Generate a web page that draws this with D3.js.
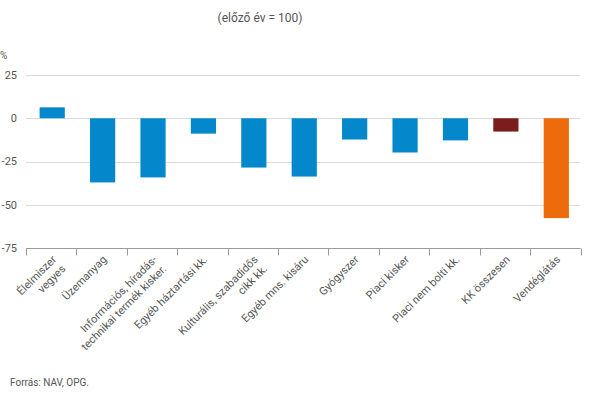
<!DOCTYPE html>
<html>
<head>
<meta charset="utf-8">
<script src="https://cdn.jsdelivr.net/npm/d3@7"></script>
<style>
  body { margin: 0; background: #fff; }
  svg { display: block; font-family: Roboto, "Noto Sans", sans-serif; }
</style>
</head>
<body>
<div id="chart"></div>
<script>
// categories (line breaks as in the original labels)
const categories = [
  "Élelmiszer\nvegyes",
  "Üzemanyag",
  "Információs, híradás-\ntechnikai termék kisker.",
  "Egyéb háztartási kk.",
  "Kulturális, szabadidős\ncikk kk.",
  "Egyéb mns. kisáru",
  "Gyógyszer",
  "Piaci kisker",
  "Piaci nem bolti kk.",
  "KK összesen",
  "Vendéglátás"
];
// change vs previous year (previous year = 100), %
const values = [6.3, -37.1, -34.2, -8.9, -28.5, -33.7, -12.3, -19.8, -12.8, -7.7, -57.7];
const kinds = ["sub", "sub", "sub", "sub", "sub", "sub", "sub", "sub", "sub", "total", "hosp"];
const yTicks = [25, 0, -25, -50, -75];

const title = "(előző év = 100)";
const source = "Forrás: NAV, OPG.";

const color = d3.scaleOrdinal()
    .domain(["sub", "total", "hosp"])
    .range(["#0588cb", "#7b1d1d", "#ee6b0b"]);

const width = 590, height = 396;
const margin = { top: 75, right: 9.5, bottom: 148, left: 26 };
const textColor = "#555";

const svg = d3.select("#chart").append("svg")
    .attr("width", width)
    .attr("height", height);

const x = d3.scaleBand()
    .domain(categories)
    .range([margin.left, width - margin.right])
    .paddingInner(0.5)
    .paddingOuter(0.25);

const y = d3.scaleLinear()
    .domain([-75, 25])
    .range([height - margin.bottom, margin.top]);

// title
svg.append("text")
    .attr("x", 260)
    .attr("y", 22)
    .attr("text-anchor", "middle")
    .attr("font-size", 12)
    .attr("fill", textColor)
    .text(title);

// unit
svg.append("text")
    .attr("x", 0)
    .attr("y", 59)
    .attr("font-size", 10)
    .attr("fill", textColor)
    .text("%");

// gridlines
svg.append("g")
  .selectAll("line")
  .data(yTicks.filter(d => d !== -75))
  .join("line")
    .attr("x1", margin.left)
    .attr("x2", width - margin.right)
    .attr("y1", d => Math.round(y(d)) + 0.5)
    .attr("y2", d => Math.round(y(d)) + 0.5)
    .attr("stroke", "#dcdcdc");

// y tick labels
svg.append("g")
  .selectAll("text")
  .data(yTicks)
  .join("text")
    .attr("x", 17)
    .attr("y", d => y(d))
    .attr("dy", "0.35em")
    .attr("text-anchor", "end")
    .attr("font-size", 11)
    .attr("fill", textColor)
    .text(d => d);

// bars
svg.append("g")
  .selectAll("rect")
  .data(values)
  .join("rect")
    .attr("x", (d, i) => x(categories[i]) + 1)
    .attr("y", d => y(Math.max(0, d)))
    .attr("width", x.bandwidth())
    .attr("height", d => Math.abs(y(d) - y(0)))
    .attr("fill", (d, i) => color(kinds[i]));

// bottom axis line with ticks at category boundaries
const yBase = Math.round(y(-75)) + 0.5;
const step = x.step();
const x0 = x.range()[0];
const bounds = d3.range(categories.length + 1).map(i => x0 + i * step);

const axis = svg.append("g").attr("stroke", "#9a9a9a");
axis.append("line")
    .attr("x1", x0)
    .attr("x2", x.range()[1])
    .attr("y1", yBase)
    .attr("y2", yBase);
axis.selectAll(".tick")
  .data(bounds)
  .join("line")
    .attr("class", "tick")
    .attr("x1", d => Math.round(d) + 0.5)
    .attr("x2", d => Math.round(d) + 0.5)
    .attr("y1", yBase)
    .attr("y2", yBase + 7);

// slanted category labels
const labels = svg.append("g")
  .selectAll("g")
  .data(categories)
  .join("g")
    .attr("transform", d => `translate(${x(d) + x.bandwidth() / 2 + 3},${yBase + 9}) rotate(-45)`);

labels.append("text")
    .attr("text-anchor", "end")
    .attr("font-size", 11)
    .attr("fill", textColor)
  .selectAll("tspan")
  .data(d => d.split("\n"))
  .join("tspan")
    .attr("x", 0)
    .attr("dy", (d, i) => i === 0 ? "0.35em" : "1.2em")
    .text(d => d);

// source
svg.append("text")
    .attr("x", 10)
    .attr("y", 386)
    .attr("font-size", 10)
    .attr("fill", textColor)
    .text(source);
</script>
</body>
</html>
